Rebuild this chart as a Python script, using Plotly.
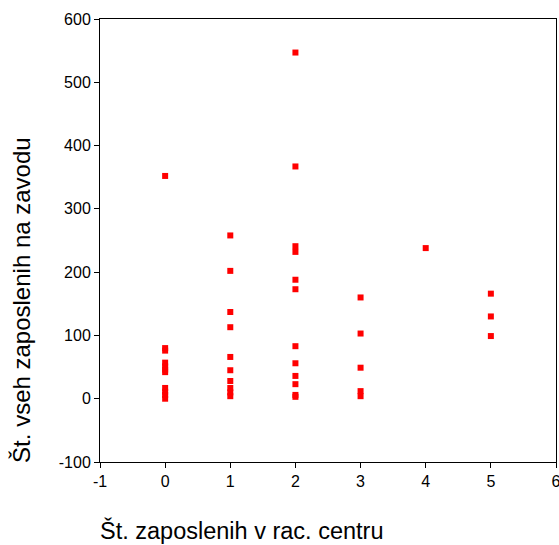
import plotly.graph_objects as go

# Data
rac_centre = ([0] * 11 + [1] * 10 + [2] * 12 + [3] * 5 + [4] * 1 + [5] * 3)
zavod_total = (
    [352, 80, 76, 57, 51, 46, 42, 17, 11, 6, 0]
    + [258, 202, 137, 113, 66, 45, 28, 17, 10, 4]
    + [547, 367, 241, 232, 188, 173, 83, 56, 36, 23, 6, 3]
    + [160, 103, 49, 12, 4]
    + [238]
    + [166, 130, 99]
)
x_ticks = [-1, 0, 1, 2, 3, 4, 5, 6]
x_tick_labels = ["-1", "0", "1", "2", "3", "4", "5", "6"]
y_ticks = [-100, 0, 100, 200, 300, 400, 500, 600]
y_tick_labels = ["-100", "0", "100", "200", "300", "400", "500", "600"]

FONT = "Arial, Liberation Sans, sans-serif"

fig = go.Figure(
    go.Scatter(
        x=rac_centre,
        y=zavod_total,
        mode="markers",
        marker=dict(symbol="square", size=6, color="#FF0000", line=dict(width=0)),
        showlegend=False,
    )
)

axis_common = dict(
    showgrid=False,
    zeroline=False,
    showline=True,
    linecolor="black",
    linewidth=1,
    mirror=True,
    ticks="outside",
    ticklen=5,
    tickcolor="black",
    automargin=False,
    ticklabeloverflow="allow",
    tickfont=dict(family=FONT, size=16, color="black"),
)

fig.update_xaxes(range=[-1, 6], tickvals=x_ticks, ticktext=x_tick_labels, **axis_common)
fig.update_yaxes(range=[-100, 600], tickvals=y_ticks, ticktext=y_tick_labels, **axis_common)

fig.update_layout(
    width=559,
    height=545,
    margin=dict(l=100, r=3, t=19, b=83),
    plot_bgcolor="white",
    paper_bgcolor="white",
    font=dict(family=FONT, color="black"),
    annotations=[
        dict(
            text="Št. zaposlenih v rac. centru",
            xref="paper", yref="paper",
            x=0.311, y=-0.1535,
            xanchor="center", yanchor="middle",
            showarrow=False,
            font=dict(family=FONT, size=23.5, color="black"),
        ),
        dict(
            text="Št. vseh zaposlenih na zavodu",
            xref="paper", yref="paper",
            x=-0.171, y=0.366,
            xanchor="center", yanchor="middle",
            textangle=-90,
            showarrow=False,
            font=dict(family=FONT, size=24, color="black"),
        ),
    ],
)

fig.write_html(
    "out.html",
    config={"displayModeBar": False},
    post_script="document.body.style.margin='0';document.body.style.overflow='hidden';",
)
